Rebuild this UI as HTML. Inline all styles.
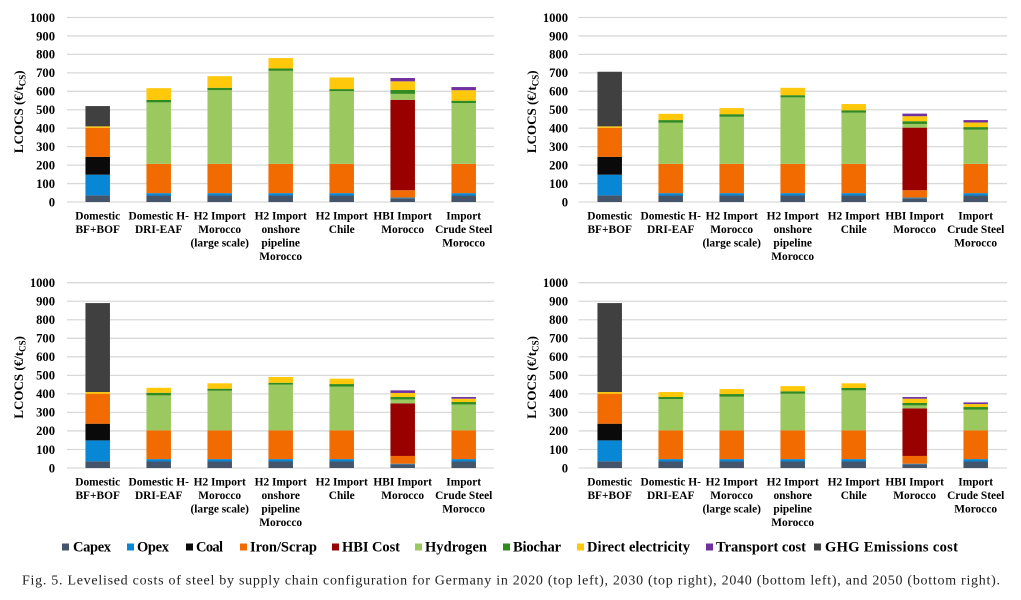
<!DOCTYPE html>
<html lang="en">
<head>
<meta charset="utf-8">
<title>Levelised costs of steel by supply chain configuration</title>
<style>
html,body{margin:0;padding:0;background:#fff;width:1021px;height:600px;overflow:hidden}
svg{display:block;filter:blur(0.35px)}
text{font-family:"Liberation Serif",serif}
</style>
</head>
<body>
<svg id="figure" xmlns="http://www.w3.org/2000/svg" width="1021" height="600" viewBox="0 0 1021 600"></svg>
<script>
const categories = [
  ["Domestic","BF+BOF"],
  ["Domestic H-","DRI-EAF"],
  ["H2 Import","Morocco","(large scale)"],
  ["H2 Import","onshore","pipeline","Morocco"],
  ["H2 Import","Chile"],
  ["HBI Import","Morocco"],
  ["Import","Crude Steel","Morocco"]
];
const yTicks = [0,100,200,300,400,500,600,700,800,900,1000];
const seriesNames = ["Capex","Opex","Coal","Iron/Scrap","HBI Cost","Hydrogen","Biochar","Direct electricity","Transport cost","GHG Emissions cost"];

const capex2020 = [36,35,35,35,35,20,35];
const opex2020 = [112,13,13,13,13,4,13];
const coal2020 = [97,0,0,0,0,0,0];
const iron2020 = [157,159,159,159,159,40,159];
const hbi2020 = [0,0,0,0,0,490,0];
const hydrogen2020 = [0,333,399,504,394,32,329];
const biochar2020 = [0,13,13,13,11,21,13];
const electricity2020 = [8,64,63,56,63,47,57];
const transport2020 = [0,0,0,0,0,18,17];
const ghg2020 = [110,0,0,0,0,0,0];

const capex2030 = [36,35,35,35,35,20,35];
const opex2030 = [112,13,13,13,13,4,13];
const coal2030 = [97,0,0,0,0,0,0];
const iron2030 = [157,159,159,159,159,40,159];
const hbi2030 = [0,0,0,0,0,339,0];
const hydrogen2030 = [0,223,255,360,277,20,185];
const biochar2030 = [0,14,14,12,13,15,14];
const electricity2030 = [8,34,33,40,34,27,25];
const transport2030 = [0,0,0,0,0,14,13];
const ghg2030 = [296,0,0,0,0,0,0];

const capex2040 = [36,35,35,35,35,20,35];
const opex2040 = [113,13,13,13,13,3,13];
const coal2040 = [90,0,0,0,0,0,0];
const iron2040 = [162,155,155,155,155,42,155];
const hbi2040 = [0,0,0,0,0,284,0];
const hydrogen2040 = [0,189,214,247,236,21,140];
const biochar2040 = [0,14,11,10,14,13,13];
const electricity2040 = [9,27,29,31,29,22,18];
const transport2040 = [0,0,0,0,0,14,9];
const ghg2040 = [480,0,0,0,0,0,0];

const capex2050 = [36,35,35,35,35,20,35];
const opex2050 = [113,13,13,13,13,3,13];
const coal2050 = [90,0,0,0,0,0,0];
const iron2050 = [162,155,155,155,155,42,155];
const hbi2050 = [0,0,0,0,0,257,0];
const hydrogen2050 = [0,169,182,198,216,16,112];
const biochar2050 = [0,11,14,13,13,13,14];
const electricity2050 = [9,27,27,28,25,23,16];
const transport2050 = [0,0,0,0,0,9,9];
const ghg2050 = [480,0,0,0,0,0,0];

const colors = ["#44546a","#0787d6","#0a0a0a","#f26b00","#990000","#9bc95f","#2f8a1f","#ffc80a","#7030a0","#404040"];
const panels = [
  {name:"2020", left:67, right:494, base:202, top:17.5, first:97.7, tickRight:55, titleX:23, stacks:[capex2020,opex2020,coal2020,iron2020,hbi2020,hydrogen2020,biochar2020,electricity2020,transport2020,ghg2020]},
  {name:"2030", left:578.5, right:1007, base:202, top:17.5, first:609.7, tickRight:568, titleX:536, stacks:[capex2030,opex2030,coal2030,iron2030,hbi2030,hydrogen2030,biochar2030,electricity2030,transport2030,ghg2030]},
  {name:"2040", left:67, right:494, base:468, top:282.7, first:97.7, tickRight:55, titleX:23, stacks:[capex2040,opex2040,coal2040,iron2040,hbi2040,hydrogen2040,biochar2040,electricity2040,transport2040,ghg2040]},
  {name:"2050", left:578.5, right:1007, base:468, top:282.7, first:609.7, tickRight:568, titleX:536, stacks:[capex2050,opex2050,coal2050,iron2050,hbi2050,hydrogen2050,biochar2050,electricity2050,transport2050,ghg2050]}
];
const legendSwatchX = [62,127,186,240,332,415,503,577,706,814];
const legendTextX = [73,137,196,250,342,425,513,587,716,825];
const legendTextEnd = [111,169,223,317,400,487,561,690,806,958];

const NS = "http://www.w3.org/2000/svg";
const fig = document.getElementById("figure");
function mk(tag, attrs, parent, txt){
  const e = document.createElementNS(NS, tag);
  for (const k in attrs) e.setAttribute(k, attrs[k]);
  if (txt !== undefined) e.textContent = txt;
  parent.appendChild(e);
  return e;
}
const BAR_W = 24.5, STEP = 61;

panels.forEach(function(p){
  const yScale = function(v){ return p.base - (v/1000)*(p.base - p.top); };
  const xScale = function(i){ return p.first + i*STEP; };
  const g = mk("g", {}, fig);
  
  

  yTicks.forEach(function(t){
    const line = mk("line", {x1:p.left, x2:p.right, y1:yScale(t), y2:yScale(t), stroke:"#d9d9d9", "stroke-width":1.3}, g);
    
    
    const lab = mk("text", {x:p.tickRight, y:yScale(t)+4.3, "text-anchor":"end", "font-size":12.6, "font-weight":"bold", fill:"#000"}, g, String(t));
    
    
  });

  const cy = (p.base + p.top)/2 + 2;
  const tx = p.titleX;
  const title = mk("text", {x:tx, y:cy, "text-anchor":"middle", "font-size":13, "font-weight":"bold", fill:"#000", transform:"rotate(-90 "+tx+" "+cy+")"}, g);
  
  
  mk("tspan", {}, title, "LCOCS (€/t");
  mk("tspan", {"font-size":9, dy:2.5}, title, "CS");
  mk("tspan", {dy:-2.5}, title, ")");

  categories.forEach(function(lines, i){
    let cum = 0;
    p.stacks.forEach(function(vals, s){
      const v = vals[i];
      if (v > 0){
        const y1 = yScale(cum + v), y0 = yScale(cum);
        const r = mk("rect", {x:xScale(i)-BAR_W/2, y:y1, width:BAR_W, height:y0-y1, fill:colors[s]}, g);
        
        
      }
      cum += v;
    });
    lines.forEach(function(l, n){
      const lab = mk("text", {x:xScale(i), y:p.base+17.5+n*13.5, "text-anchor":"middle", "font-size":11.4, "font-weight":"bold", fill:"#000"}, g, l);
      
      
    });
  });
});

const legend = mk("g", {}, fig);


seriesNames.forEach(function(n, i){
  const sw = mk("rect", {x:legendSwatchX[i], y:543.5, width:7, height:7, fill:colors[i]}, legend);
  
  
  const t = mk("text", {x:legendTextX[i], y:551.5, "font-size":14.5, "font-weight":"bold", fill:"#000", textLength:legendTextEnd[i]-legendTextX[i], lengthAdjust:"spacing"}, legend, n);
  
  
});

const cap = mk("text", {x:22, y:584.5, "font-size":14, fill:"#222", textLength:978, lengthAdjust:"spacing"}, fig, "Fig. 5.  Levelised costs of steel by supply chain configuration for Germany in 2020 (top left), 2030 (top right), 2040 (bottom left), and 2050 (bottom right).");


</script>
</body>
</html>
